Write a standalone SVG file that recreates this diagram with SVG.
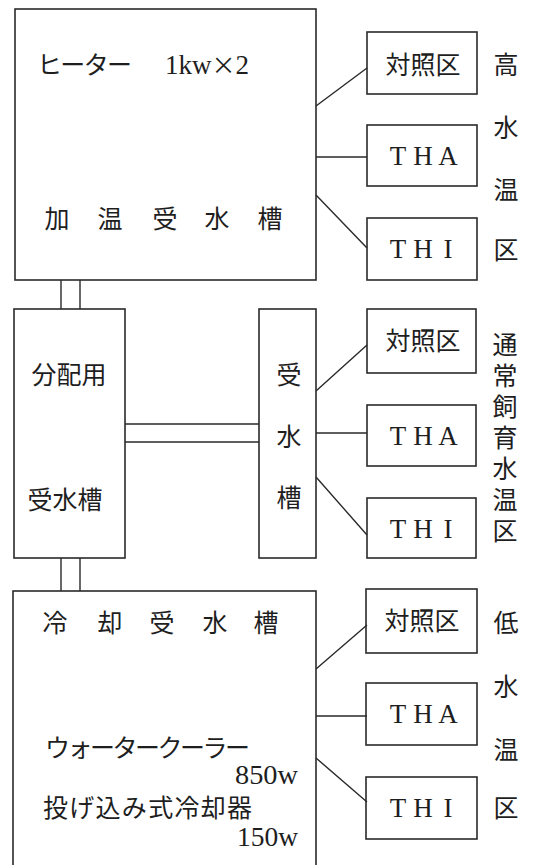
<svg xmlns="http://www.w3.org/2000/svg" width="545" height="865" viewBox="0 0 545 865">
<style>
.b{fill:none;stroke:#2a2a2a;stroke-width:1.6}
.l{stroke:#2a2a2a;stroke-width:1.4;fill:none}
.j{font-family:"Noto Sans CJK JP","Noto Sans CJK SC",sans-serif;font-size:25px;fill:#1e1e1e}
.s{font-family:"Liberation Serif",serif;font-size:27px;fill:#1e1e1e}
.m{text-anchor:middle}
</style>
<rect width="545" height="865" fill="#fff"/>
<g id="heated-tank">
<rect class="b" x="15" y="9" width="301" height="271"/>
<text class="j" x="37" y="74" font-size="23" textLength="95" lengthAdjust="spacing">ヒーター</text>
<text class="s" x="165" y="74">1kw<tspan font-family="Noto Sans CJK JP,sans-serif" font-size="24">×</tspan>2</text>
<text class="j m" x="57 110 165 217 270" y="228">加温受水槽</text>
</g>
<g id="dist-tank">
<rect class="b" x="14" y="309" width="111" height="249"/>
<text class="j m" x="69" y="384" font-size="24">分配用</text>
<text class="j m" x="65" y="509" font-size="25">受水槽</text>
</g>
<g id="recv-tank">
<rect class="b" x="259" y="309" width="57" height="249"/>
<text class="j m" x="289 289 289" y="384 446 507">受水槽</text>
</g>
<g id="cooled-tank">
<rect class="b" x="13" y="591" width="303" height="290"/>
<text class="j m" x="55 110 162 215 266" y="632">冷却受水槽</text>
<text class="j" x="45" y="757" font-size="23" textLength="205" lengthAdjust="spacing">ウォータークーラー</text>
<text class="s" x="298" y="784" text-anchor="end" textLength="63" lengthAdjust="spacingAndGlyphs">850w</text>
<text class="j" x="43" y="817" font-size="25" textLength="209" lengthAdjust="spacing">投げ込み式冷却器</text>
<text class="s" x="298" y="846" text-anchor="end" textLength="61" lengthAdjust="spacingAndGlyphs">150w</text>
</g>
<g id="h-ctrl"><rect class="b" x="367" y="32" width="110" height="62"/><text class="j m" x="423" y="74">対照区</text></g>
<g id="h-tha"><rect class="b" x="367" y="125" width="110" height="61"/><text class="s m" x="398 423 448" y="165">THA</text></g>
<g id="h-thi"><rect class="b" x="367" y="218" width="110" height="62"/><text class="s m" x="398 423 448" y="258">THI</text></g>
<g id="n-ctrl"><rect class="b" x="367" y="309" width="109" height="64"/><text class="j m" x="423" y="350">対照区</text></g>
<g id="n-tha"><rect class="b" x="367" y="405" width="109" height="61"/><text class="s m" x="398 423 448" y="445">THA</text></g>
<g id="n-thi"><rect class="b" x="367" y="498" width="109" height="60"/><text class="s m" x="398 423 448" y="538">THI</text></g>
<g id="c-ctrl"><rect class="b" x="366" y="589" width="111" height="64"/><text class="j m" x="422" y="630">対照区</text></g>
<g id="c-tha"><rect class="b" x="366" y="683" width="111" height="62"/><text class="s m" x="398 423 448" y="723">THA</text></g>
<g id="c-thi"><rect class="b" x="366" y="777" width="111" height="62"/><text class="s m" x="398 423 448" y="817">THI</text></g>
<g id="labels">
<text class="j m" x="506 506 506 506" y="74 137 199 259">高水温区</text>
<text class="j m" x="505 505 505 505 505 505 505" y="354 385 416 447 478 509 540">通常飼育水温区</text>
<text class="j m" x="506 506 506 506" y="632 696 759 817">低水温区</text>
</g>
<g id="connectors">
<path class="l" d="M61 280V309M80 280V309M61 558V591M80 558V591"/>
<path class="l" d="M125 424H259M125 442H259"/>
<path class="l" d="M316 106L367 68M316 157H367M316 195L367 248"/>
<path class="l" d="M316 391L367 345M316 433H367M316 477L367 535"/>
<path class="l" d="M316 669L367 625M316 716H367M316 758L367 802"/>
</g>
</svg>
